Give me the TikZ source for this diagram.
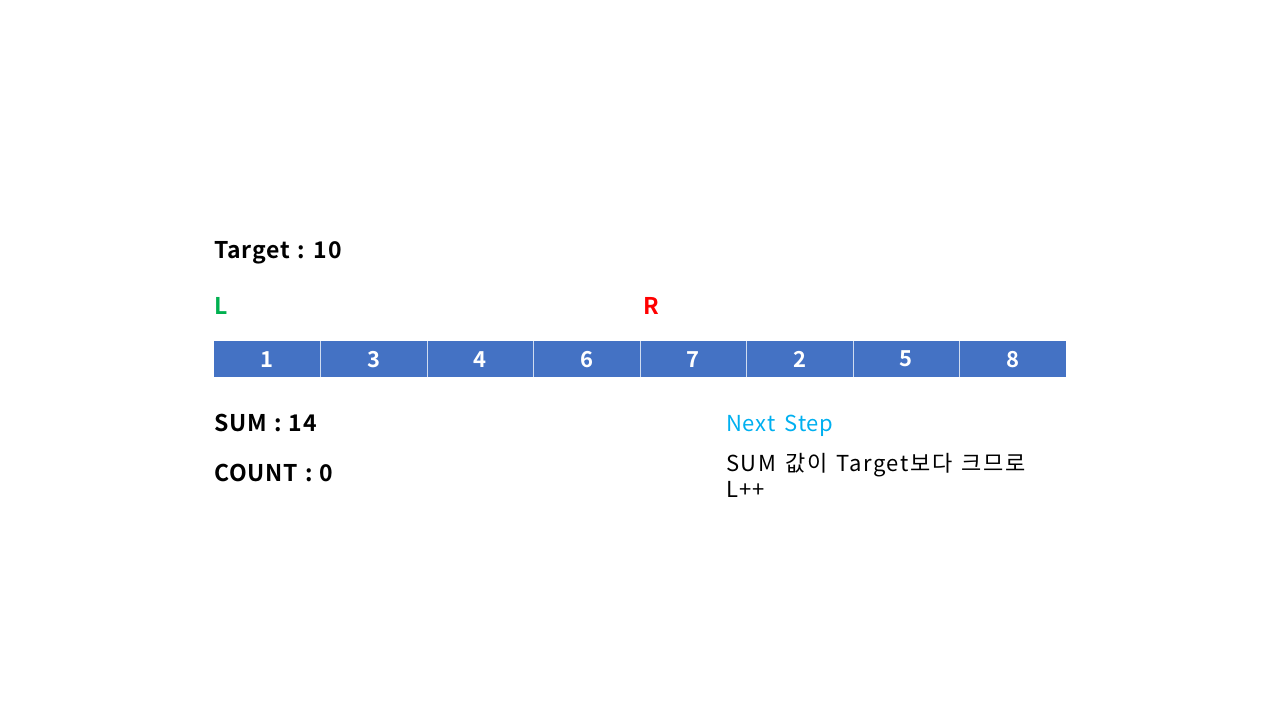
\documentclass[tikz,border=0pt]{standalone}
\usepackage{fontspec}
\setmainfont{Noto Sans CJK KR}[BoldFont={Noto Sans CJK KR Bold}]
\usetikzlibrary{positioning}
\definecolor{cellblue}{HTML}{4472C4}
\definecolor{ptrgreen}{HTML}{00B050}
\definecolor{ptrred}{HTML}{FF0000}
\definecolor{stepcyan}{HTML}{00B0F0}
\newcommand{\lblfont}{\bfseries\fontsize{23}{26}\selectfont\addfontfeature{LetterSpace=3}\spaceskip=0.32em\relax}
\newcommand{\notefont}{\fontsize{22}{26}\selectfont\addfontfeature{LetterSpace=4}\spaceskip=0.42em\relax}

\tikzset{
	cell/.style = {fill=cellblue, text=white, font=\bfseries\fontsize{22}{26}\selectfont,
		minimum width=106.5pt, minimum height=36pt, inner sep=0pt, anchor=north west},
	sep/.style = {draw=white!75!cellblue, line width=1pt},
	lbl/.style = {font=\lblfont, anchor=base west, inner sep=0pt},
	note/.style = {font=\notefont, anchor=base west, inner sep=0pt}
}

\begin{document}
\begin{tikzpicture}[x=1pt,y=-1pt]
	\useasboundingbox[fill=white] (0,0) rectangle (1280,720);
	\node[lbl] (target) at (214,258) {Target : 10};
	\node[lbl, text=ptrgreen] (ptrL) at (214,314) {L};
	\node[lbl, text=ptrred] (ptrR) at (643,314) {R};
	\foreach \v [count=\i] in {1,3,4,6,7,2,5,8}
		\node[cell] (c\i) at ({214+106.5*(\i-1)},341) {\v};
	\foreach \i in {1,...,7}
		\draw[sep] (c\i.north east) -- (c\i.south east);
	\node[lbl] (sum) at (214,431.5) {SUM : 14};
	\node[lbl] (count) at (214,481) {COUNT : 0};
	\node[note, text=stepcyan] (next) at (726,431.5) {Next Step};
	\node[note] (why) at (726,471) {\addfontfeature{LetterSpace=7}SUM 값이 Target보다 크므로};
	\node[note] (move) at (726,497.5) {L+\kern1pt+};
\end{tikzpicture}
\end{document}
